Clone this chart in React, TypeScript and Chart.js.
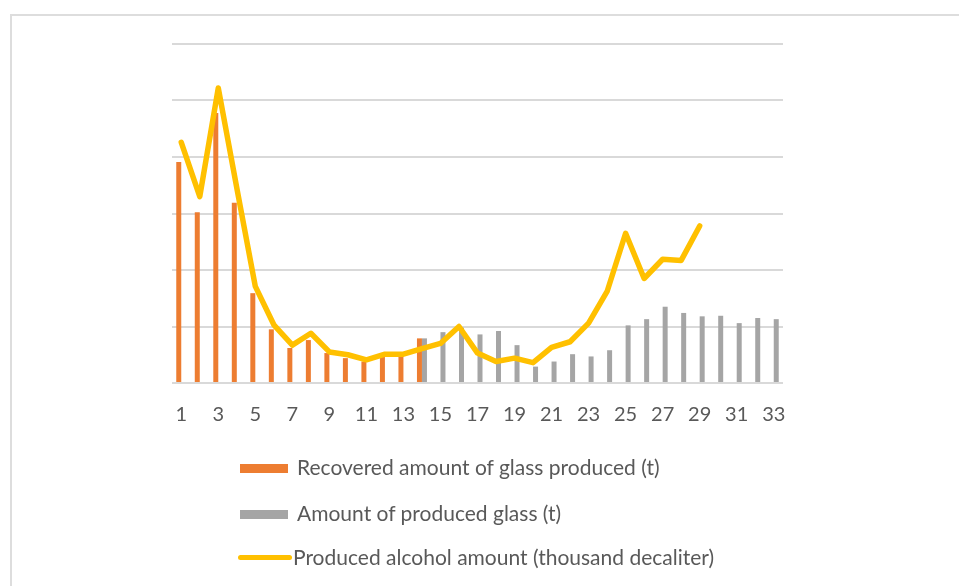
import React, { useEffect, useRef } from "react";
import { Chart, registerables } from "chart.js";

Chart.register(...registerables);

// Month index along the horizontal axis
const categories = [
  "1", "2", "3", "4", "5", "6", "7", "8", "9", "10", "11",
  "12", "13", "14", "15", "16", "17", "18", "19", "20", "21", "22",
  "23", "24", "25", "26", "27", "28", "29", "30", "31", "32", "33",
];

// Recovered amount of glass produced (t)
const recoveredGlass = [
  391, 302, 478, 319, 159, 95, 62, 76, 53, 44, 38, 47, 47, 79,
  null, null, null, null, null, null, null, null, null, null, null,
  null, null, null, null, null, null, null, null,
];

// Amount of produced glass (t)
const producedGlass = [
  null, null, null, null, null, null, null, null, null, null, null, null, null,
  79, 90, 98, 86, 92, 67, 29, 38, 51, 47, 58, 102, 113, 135, 124, 118, 119, 106, 115, 113,
];

// Produced alcohol amount (thousand decaliter)
const alcoholAmount = [
  426, 330, 522, 345, 171, 103, 67, 88, 55, 50, 41, 51, 51, 61, 70, 100, 53,
  38, 44, 36, 63, 73, 106, 162, 265, 185, 219, 217, 278, null, null, null, null,
];

const legendItems = [
  { label: "Recovered amount of glass produced (t)", color: "#ED7D31", kind: "box" },
  { label: "Amount of produced glass (t)", color: "#A5A5A5", kind: "box" },
  { label: "Produced alcohol amount (thousand decaliter)", color: "#FFC000", kind: "line" },
];

const FONT = "Lato, 'Open Sans', sans-serif";
const TEXT = "#595959";

export default function App() {
  const canvasRef = useRef<HTMLCanvasElement>(null);

  useEffect(() => {
    const chart = new Chart(canvasRef.current as HTMLCanvasElement, {
      type: "bar",
      data: {
        labels: categories,
        datasets: [
          {
            type: "line",
            label: legendItems[2].label,
            data: alcoholAmount,
            borderColor: "#FFC000",
            backgroundColor: "#FFC000",
            borderWidth: 5.5,
            pointRadius: 0,
            tension: 0,
            borderJoinStyle: "round",
            borderCapStyle: "round",
            order: 0,
          },
          {
            type: "bar",
            label: legendItems[0].label,
            data: recoveredGlass,
            backgroundColor: "#ED7D31",
            categoryPercentage: 0.54,
            barPercentage: 1,
            order: 1,
          },
          {
            type: "bar",
            label: legendItems[1].label,
            data: producedGlass,
            backgroundColor: "#A5A5A5",
            categoryPercentage: 0.54,
            barPercentage: 1,
            order: 2,
          },
        ],
      } as any,
      options: {
        animation: false,
        responsive: false,
        maintainAspectRatio: false,
        layout: { padding: { left: 172, right: 176, top: 44, bottom: 143 } },
        plugins: {
          legend: { display: false },
          tooltip: { enabled: false },
        },
        scales: {
          x: {
            grid: { display: false },
            border: { display: false },
            ticks: {
              autoSkip: false,
              maxRotation: 0,
              padding: 12,
              color: TEXT,
              font: { family: FONT, size: 20 },
              callback: (_v: any, i: number) => (i % 2 === 0 ? categories[i] : ""),
            },
            afterFit: (scale: any) => {
              scale.height = 60;
            },
          },
          y: {
            min: 0,
            max: 600,
            ticks: { display: false, stepSize: 100 },
            grid: { color: "#D9D9D9", lineWidth: 2, drawTicks: false },
            border: { display: false },
            afterFit: (scale: any) => {
              scale.width = 0;
            },
          },
        },
      } as any,
    });
    return () => chart.destroy();
  }, []);

  const rowCenters = [467, 513, 557];

  return (
    <div
      style={{
        position: "fixed",
        left: 0,
        top: 0,
        width: 959,
        height: 586,
        background: "#fff",
        overflow: "hidden",
        fontFamily: FONT,
      }}
    >
      <div
        style={{
          position: "absolute",
          left: 10,
          top: 14,
          width: 1000,
          height: 700,
          borderTop: "2px solid #DDDDDD",
          borderLeft: "2px solid #DDDDDD",
        }}
      />
      <canvas
        ref={canvasRef}
        width={959}
        height={586}
        style={{ position: "absolute", left: 0, top: 0, width: 959, height: 586 }}
      />
      {legendItems.map((item, i) => {
        const cy = rowCenters[i];
        return (
          <div key={item.label}>
            {item.kind === "box" ? (
              <div
                style={{
                  position: "absolute",
                  left: 240,
                  top: cy - 3,
                  width: 48,
                  height: 9,
                  background: item.color,
                }}
              />
            ) : (
              <div
                style={{
                  position: "absolute",
                  left: 238,
                  top: cy - 2,
                  width: 54,
                  height: 5,
                  borderRadius: 3,
                  background: item.color,
                }}
              />
            )}
            <div
              style={{
                position: "absolute",
                left: item.kind === "box" ? 297 : 293,
                top: cy - 13,
                height: 26,
                lineHeight: "26px",
                fontSize: 21,
                color: TEXT,
                whiteSpace: "nowrap",
              }}
            >
              {item.label}
            </div>
          </div>
        );
      })}
    </div>
  );
}
